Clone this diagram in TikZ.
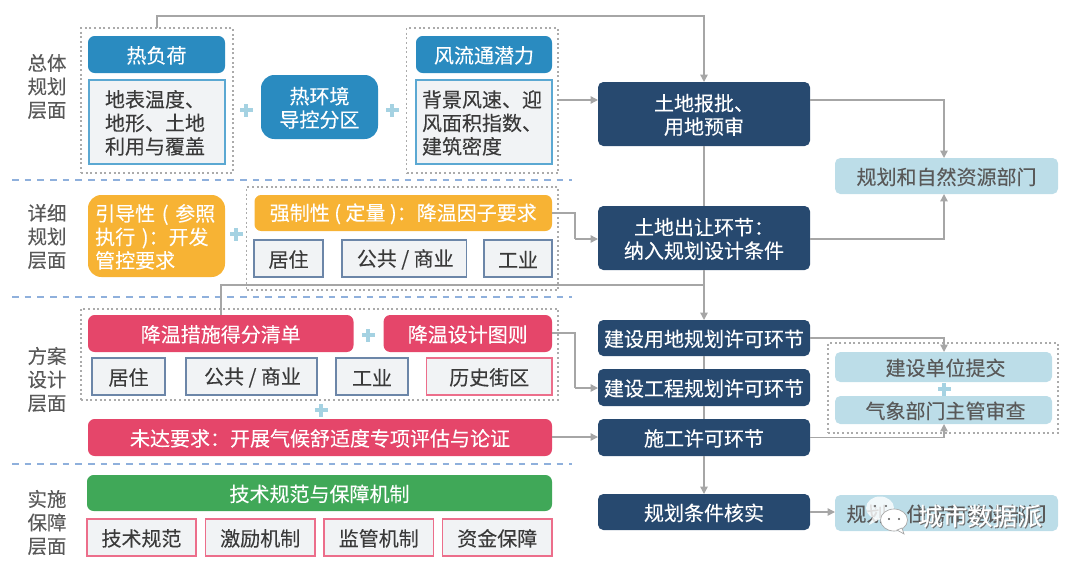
\documentclass[tikz,border=0pt]{standalone}
\usepackage{fontspec}
\setmainfont[FakeBold=0.12]{Noto Sans CJK SC}
\usetikzlibrary{arrows.meta,calc}
\definecolor{navy}{HTML}{27496F}
\definecolor{bluebox}{HTML}{2A8BC0}
\definecolor{orangebox}{HTML}{F7B334}
\definecolor{redbox}{HTML}{E5466A}
\definecolor{greenbox}{HTML}{40A858}
\definecolor{paleblue}{HTML}{BCDDE8}
\definecolor{panel}{HTML}{F1F3F5}
\definecolor{edgeblue}{HTML}{5BA8D2}
\definecolor{edgesteel}{HTML}{6C86A8}
\definecolor{edgepink}{HTML}{EC6E8B}
\definecolor{inktext}{HTML}{3A3A3A}
\definecolor{labeltext}{HTML}{595959}
\definecolor{dashblue}{HTML}{8FB0DC}
\definecolor{dotgray}{HTML}{ABABAB}
\definecolor{conn}{HTML}{A6A6A6}
\definecolor{plusblue}{HTML}{A5D2E2}
\tikzset{
  base/.style={inner sep=0pt,outer sep=0pt,align=center,font=\fontsize{15}{17.6}\selectfont},
  bluefill/.style={base,fill=bluebox,text=white,rounded corners=5pt},
  bluebig/.style={base,fill=bluebox,text=white,rounded corners=10pt},
  orangefill/.style={base,fill=orangebox,text=white,rounded corners=5pt},
  orangebig/.style={base,fill=orangebox,text=white,rounded corners=10pt},
  redfill/.style={base,fill=redbox,text=white,rounded corners=5pt},
  greenfill/.style={base,fill=greenbox,text=white,rounded corners=5pt},
  navyfill/.style={base,fill=navy,text=white,rounded corners=4pt},
  palefill/.style={base,fill=paleblue,text=labeltext,rounded corners=4pt},
  bluepanel/.style={base,fill=panel,draw=edgeblue,line width=0.9pt,text=inktext},
  steelpanel/.style={base,fill=panel,draw=edgesteel,line width=0.9pt,text=inktext},
  pinkpanel/.style={base,fill=panel,draw=edgepink,line width=0.9pt,text=inktext},
  dotbox/.style={base,draw=dotgray,line width=0.8pt,dash pattern=on 1.5pt off 2pt},
  sectionline/.style={draw=dashblue,line width=1pt,dash pattern=on 5pt off 4.5pt},
  connline/.style={draw=conn,line width=1.05pt},
  connarrow/.style={connline,-{Triangle[length=5.5pt,width=5.5pt,fill=conn]}},
  leveltext/.style={base,text=labeltext,font=\fontsize{14.6}{17.6}\selectfont},
}
\newcommand{\bx}[7]{%
  \pgfmathsetmacro\bxw{(#5-#3)*0.75}%
  \pgfmathsetmacro\bxh{(#6-#4)*0.75}%
  \node[#2,minimum width=\bxw pt,minimum height=\bxh pt] (#1) at ({(#3+#5)/2},{(#4+#6)/2}) {\rule{0pt}{14pt}#7};}
\newcommand{\plusat}[2]{%
  \fill[plusblue] ({#1-6.5},{#2-2}) rectangle ({#1+6.5},{#2+2});
  \fill[plusblue] ({#1-2},{#2-6.5}) rectangle ({#1+2},{#2+6.5});}
\begin{document}
\begin{tikzpicture}[x=0.75pt,y=-0.75pt]
\useasboundingbox (0,0) rectangle (1080,564);
% dotted groups
\bx{dotA}{dotbox}{81}{28}{233}{173}{}
\bx{dotB}{dotbox}{406.5}{28}{558}{173}{}
\bx{dotC}{dotbox}{246.5}{187}{558}{290}{}
\bx{dotD}{dotbox}{81}{309}{558}{400}{}
\bx{dotE}{dotbox}{828}{343}{1058}{433}{}
% section lines
\coordinate (sa) at (12,180); \coordinate (sb) at (572,180);
\coordinate (sc) at (12,297); \coordinate (sd) at (572,297);
\coordinate (se) at (12,464); \coordinate (sf) at (572,464);
\draw[sectionline] (sa) -- (sb);
\draw[sectionline] (sc) -- (sd);
\draw[sectionline] (se) -- (sf);
% level labels
\node[leveltext] (lvA) at (47,86.5) {总体\\规划\\层面};
\node[leveltext] (lvB) at (47,236.5) {详细\\规划\\层面};
\node[leveltext] (lvC) at (47,379.5) {方案\\设计\\层面};
\node[leveltext] (lvD) at (47,522.5) {实施\\保障\\层面};
% left column
\bx{hl}{bluefill}{88}{36}{225}{73}{热负荷}
\bx{hlp}{bluepanel,align=left,text width=78pt}{89}{80}{225}{164}{地表温度、\\地形、土地\\利用与覆盖}
\bx{rhj}{bluebig}{261}{75}{378}{139}{热环境\\导控分区}
\bx{fl}{bluefill}{416}{36}{552}{73}{风流通潜力}
\bx{flp}{bluepanel,align=left,text width=93pt}{416}{80}{552}{164}{背景风速、迎\\风面积指数、\\建筑密度}
\bx{yd}{orangebig,align=left,text width=92pt}{88}{195}{225}{277}{引导性 ( 参照\\执行 )：开发\\管控要求}
\bx{qz}{orangefill}{254.5}{195}{552}{231}{强制性 ( 定量 )：降温因子要求}
\bx{qa}{steelpanel}{254}{240}{323}{277}{居住}
\bx{qb}{steelpanel}{342}{240}{466.5}{277}{\hspace*{1.5pt}公共 / 商业}
\bx{qc}{steelpanel}{484}{240}{552}{277}{工业}
\bx{jw}{redfill}{88}{315}{353.5}{352}{降温措施得分清单}
\bx{jt}{redfill}{383.6}{315}{552}{352}{降温设计图则}
\bx{ja}{steelpanel}{92}{358}{165}{395}{居住}
\bx{jb}{steelpanel}{186}{358}{317}{395}{\hspace*{1.5pt}公共 / 商业}
\bx{jc}{steelpanel}{336}{358}{408}{395}{工业}
\bx{jd}{pinkpanel}{426.5}{358}{552}{395}{历史街区}
\bx{wd}{redfill}{88}{419}{552}{456}{未达要求：开展气候舒适度专项评估与论证}
\bx{js}{greenfill}{87}{475}{552}{511}{技术规范与保障机制}
\bx{ka}{pinkpanel}{87}{519}{196}{556}{技术规范}
\bx{kb}{pinkpanel}{205.5}{519}{315}{556}{激励机制}
\bx{kc}{pinkpanel}{324}{519}{433.5}{556}{监管机制}
\bx{kd}{pinkpanel}{442.5}{519}{552}{556}{资金保障}
% plus signs
\plusat{246}{110}
\plusat{392}{110}
\plusat{236}{234}
\plusat{368}{335}
\plusat{321}{410}
% process column
\bx{tb}{navyfill}{598}{82}{810}{146}{土地报批、\\用地预审}
\bx{tc}{navyfill}{598}{206}{810}{270}{土地出让环节：\\纳入规划设计条件}
\bx{ja1}{navyfill}{598}{320}{810}{356}{建设用地规划许可环节}
\bx{ja2}{navyfill}{598}{369}{810}{406}{建设工程规划许可环节}
\bx{sg}{navyfill}{598}{419}{810}{456}{施工许可环节}
\bx{hs}{navyfill}{598}{494}{810}{530}{规划条件核实}
\bx{nat}{palefill}{835}{158}{1058}{194}{规划和自然资源部门}
\bx{un}{palefill}{835}{352}{1052}{382}{\hspace*{3pt}建设单位提交}
\bx{qx}{palefill}{835}{396}{1052}{424}{\hspace*{3pt}气象部门主管审查}
\bx{gz}{palefill}{835}{495}{1058}{531}{规划、住房和建设部门}
\plusat{944}{389}
% connectors
\coordinate (topA) at ($(dotA.north west)!0.5!(dotA.north east)$);
\coordinate (topB) at (157,16);
\coordinate (topC) at (tb.north |- topB);
\draw[connarrow] (topA) -- (topB) -- (topC) -- (tb.north);
\coordinate (flOut) at (558,100);
\draw[connarrow] (flOut) -- (tb.west |- flOut);
\draw[connline] (tb.south) -- (tc.north);
\coordinate (qzElbowA) at (575,213);
\coordinate (qzElbowB) at (575,239);
\draw[connline] (qz.east |- qzElbowA) -- (qzElbowA) -- (qzElbowB);
\draw[connarrow] (qzElbowB) -- (tc.west |- qzElbowB);
\coordinate (jwUp) at (221,285);
\coordinate (midRun) at (tc.south |- jwUp);
\draw[connline] (jw.north -| jwUp) -- (jwUp) -- (midRun);
\draw[connarrow] (tc.south) -- (ja1.north);
\draw[connline] (ja1.south) -- (ja2.north);
\draw[connline] (ja2.south) -- (sg.north);
\draw[connarrow] (sg.south) -- (hs.north);
\coordinate (jtElbowA) at (575,333);
\coordinate (jtElbowB) at (575,388);
\draw[connline] (jt.east |- jtElbowA) -- (jtElbowA) -- (jtElbowB);
\draw[connarrow] (jtElbowB) -- (ja2.west |- jtElbowB);
\coordinate (wdOut) at (552,437);
\draw[connarrow] (wdOut) -- (sg.west |- wdOut);
\coordinate (natX) at (944,176);
\coordinate (tbOut) at (810,100);
\coordinate (tcOut) at (810,239);
\coordinate (jaOut) at (810,338);
\coordinate (sgOut) at (810,437.5);
\coordinate (hsOut) at (810,512);
\draw[connarrow] (tbOut) -| (natX |- nat.north);
\draw[connarrow] (tcOut) -| (natX |- nat.south);
\draw[connarrow] (jaOut) -| (natX |- un.north);
\draw[connarrow] (sgOut) -| (natX |- qx.south);
\draw[connarrow] (hsOut) -- (gz.west |- hsOut);
% watermark
\fill[white,opacity=0.8] (880,508) ellipse [x radius=14,y radius=11.5];
\fill[white,opacity=0.8] (873,517) -- (869,525) -- (880,519) -- cycle;
\fill[labeltext] (875,506) circle (1.1); \fill[labeltext] (886,506) circle (1.1);
\filldraw[fill=white,draw=black!35,line width=0.5pt] (894,520) ellipse [x radius=13.5,y radius=11];
\filldraw[fill=white,draw=black!35,line width=0.5pt] (897,530) -- (904,534) -- (902,528) -- cycle;
\fill[labeltext] (889,519) circle (1.1); \fill[labeltext] (899,519) circle (1.1);
\node[base,text=black!55,font=\fontsize{18.6}{20}\selectfont] (wmS) at (981,517) {城市数据派};
\node[base,text=white,font=\fontsize{18.6}{20}\selectfont] (wm) at (980,516) {城市数据派};
\end{tikzpicture}
\end{document}
